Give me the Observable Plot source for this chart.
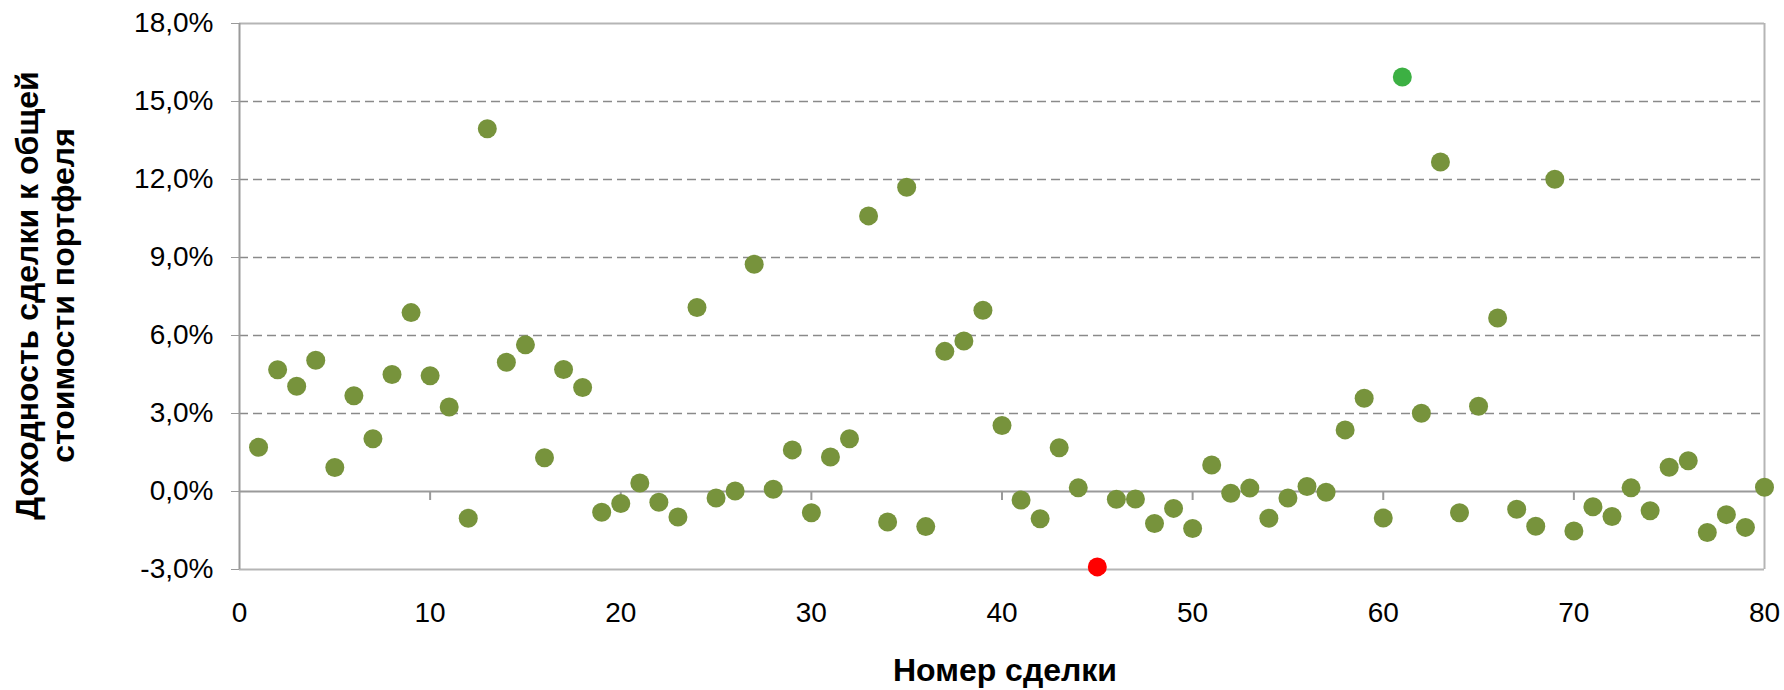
<!DOCTYPE html>
<html>
<head>
<meta charset="utf-8">
<script src="https://cdn.jsdelivr.net/npm/d3@7"></script>
<script src="https://cdn.jsdelivr.net/npm/@observablehq/plot@0.6"></script>
<style>
  html, body { margin: 0; padding: 0; background: #fff; }
  #chart { width: 1784px; height: 690px; }
</style>
</head>
<body>
<div id="chart"></div>
<script>
// Trade number (x) and trade return relative to total portfolio value, % (y)
const tradeNumbers = d3.range(1, 81);
const tradeReturns = [
  1.7, 4.68, 4.05, 5.05, 0.92, 3.68, 2.03, 4.5, 6.88, 4.45,
  3.25, -1.03, 13.95, 4.97, 5.64, 1.3, 4.69, 4.0, -0.8, -0.46,
  0.33, -0.41, -0.98, 7.08, -0.25, 0.02, 8.74, 0.09, 1.6, -0.82,
  1.33, 2.03, 10.6, -1.17, 11.7, -1.35, 5.39, 5.79, 6.97, 2.54,
  -0.33, -1.05, 1.68, 0.14, -2.9, -0.3, -0.29, -1.23, -0.65, -1.42,
  1.02, -0.07, 0.13, -1.03, -0.25, 0.19, -0.03, 2.37, 3.59, -1.02,
  15.94, 3.01, 12.67, -0.82, 3.28, 6.67, -0.68, -1.34, 12.01, -1.52,
  -0.59, -0.96, 0.14, -0.74, 0.93, 1.18, -1.58, -0.89, -1.38, 0.16
];
const yTicks = [-3, 0, 3, 6, 9, 12, 15, 18];
const gridLines = [3, 6, 9, 12, 15];
const xTicks = [0, 10, 20, 30, 40, 50, 60, 70, 80];
const xTitle = "Номер сделки";
const yTitle = "Доходность сделки к общей\nстоимости портфеля";

const colorNormal = "#77933c";
const colorMax = "#3cb043";
const colorMin = "#ff0000";

const data = tradeNumbers.map((n, i) => ({n, r: tradeReturns[i]}));
const maxR = d3.max(tradeReturns), minR = d3.min(tradeReturns);
const fillOf = d => d.r === maxR ? colorMax : d.r === minR ? colorMin : colorNormal;

const fmt = d => d.toFixed(1).replace(".", ",") + "%";

const chart = Plot.plot({
  width: 1784,
  height: 690,
  marginLeft: 239,
  marginRight: 20,
  marginTop: 23,
  marginBottom: 121,
  style: {fontFamily: "'Liberation Sans', Arial, sans-serif", fontSize: "28px", color: "#000", background: "#fff"},
  x: {domain: [0, 80], ticks: xTicks},
  y: {domain: [-3, 18], ticks: yTicks},
  marks: [
    Plot.ruleY(gridLines, {stroke: "#8a8a8a", strokeWidth: 1.4, strokeDasharray: "9,5"}),
    Plot.ruleY([18, -3], {stroke: "#b5b5b5", strokeWidth: 2}),
    Plot.ruleX([80], {stroke: "#b5b5b5", strokeWidth: 2}),
    Plot.ruleX([0], {stroke: "#9a9a9a", strokeWidth: 2}),
    Plot.ruleY([0], {stroke: "#9a9a9a", strokeWidth: 2}),
    Plot.ruleX(xTicks.slice(1, -1), {x: d => d, y1: 0, y2: 0, insetBottom: -9, stroke: "#9a9a9a", strokeWidth: 2}),
    Plot.axisY({ticks: yTicks, tickFormat: fmt, tickSize: 8, tickPadding: 18, stroke: "#9a9a9a", fill: "#000", fontSize: 28, label: null}),
    Plot.axisX({ticks: xTicks, tickFormat: d => String(d), tickSize: 0, tickPadding: 33, fill: "#000", fontSize: 28, label: null}),
    Plot.dot(data, {x: "n", y: "r", r: 9.5, fill: fillOf, stroke: "none"}),
    Plot.text([yTitle], {frameAnchor: "left", textAnchor: "middle", lineAnchor: "middle", rotate: -90, dx: -195, dy: -1, fontWeight: "bold", fontSize: 32, lineHeight: 1.12, fill: "#000"}),
    Plot.text([xTitle], {frameAnchor: "bottom", lineAnchor: "middle", dx: 3, dy: 101, fontWeight: "bold", fontSize: 32, fill: "#000"})
  ]
});
document.getElementById("chart").appendChild(chart);
</script>
</body>
</html>
